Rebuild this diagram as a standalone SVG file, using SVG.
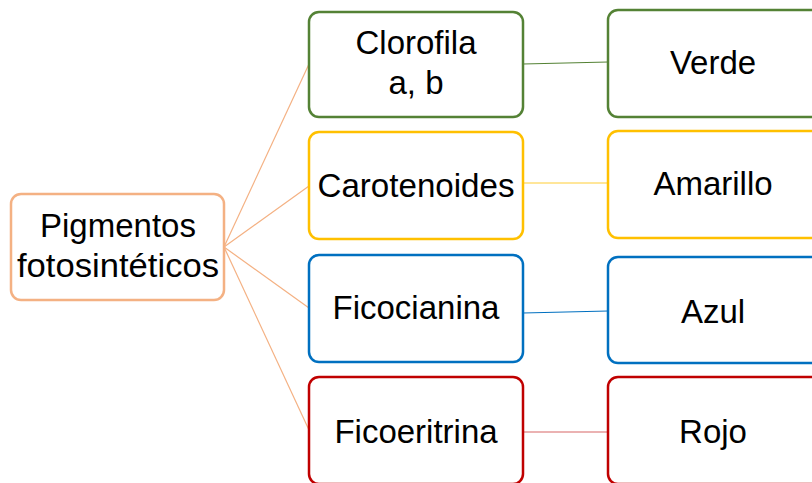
<svg xmlns="http://www.w3.org/2000/svg" width="812" height="483" viewBox="0 0 812 483">
<style>
rect{fill:#fff;stroke-width:2.5}
text{font-family:"Liberation Sans",Arial,sans-serif;font-size:33px;fill:#000;text-anchor:middle}
.o{stroke:#F4B183}.g{stroke:#548235}.y{stroke:#FFC000}.b{stroke:#0070C0}.r{stroke:#C00000}
#connectors line{stroke-width:1.2}
</style>
<rect width="812" height="483" fill="#fff" stroke="none"/>
<g id="connectors" fill="none">
<line class="o" x1="224" y1="247" x2="309" y2="64"/>
<line class="o" x1="224" y1="247" x2="309" y2="186"/>
<line class="o" x1="224" y1="247" x2="309" y2="308"/>
<line class="o" x1="224" y1="247" x2="309" y2="430"/>
<line class="g" x1="523" y1="64" x2="608" y2="62"/>
<line class="y" x1="523" y1="183" x2="608" y2="183" stroke-opacity="0.8"/>
<line class="b" x1="523" y1="313" x2="608" y2="311"/>
<line class="r" x1="523" y1="432" x2="608" y2="432" stroke-opacity="0.6"/>
</g>
<g id="pigmentos"><rect class="o" x="11" y="194" width="213" height="106" rx="10"/><text x="118" y="237">Pigmentos</text><text x="118" y="277" textLength="202" lengthAdjust="spacingAndGlyphs">fotosintéticos</text></g>
<g id="clorofila"><rect class="g" x="309" y="12" width="214" height="105" rx="10"/><text x="416" y="54">Clorofila</text><text x="416" y="94">a, b</text></g>
<g id="carotenoides"><rect class="y" x="309" y="132" width="214" height="107" rx="10"/><text x="416" y="197" textLength="197" lengthAdjust="spacingAndGlyphs">Carotenoides</text></g>
<g id="ficocianina"><rect class="b" x="309" y="255" width="214" height="107" rx="10"/><text x="416" y="319">Ficocianina</text></g>
<g id="ficoeritrina"><rect class="r" x="309" y="377" width="214" height="107" rx="10"/><text x="416" y="443">Ficoeritrina</text></g>
<g id="verde"><rect class="g" x="608" y="10" width="220" height="107" rx="10"/><text x="713" y="74">Verde</text></g>
<g id="amarillo"><rect class="y" x="608" y="131" width="220" height="107" rx="10"/><text x="713" y="195">Amarillo</text></g>
<g id="azul"><rect class="b" x="608" y="257" width="220" height="106" rx="10"/><text x="713" y="323">Azul</text></g>
<g id="rojo"><rect class="r" x="608" y="377" width="220" height="107" rx="10"/><text x="713" y="443">Rojo</text></g>
</svg>
